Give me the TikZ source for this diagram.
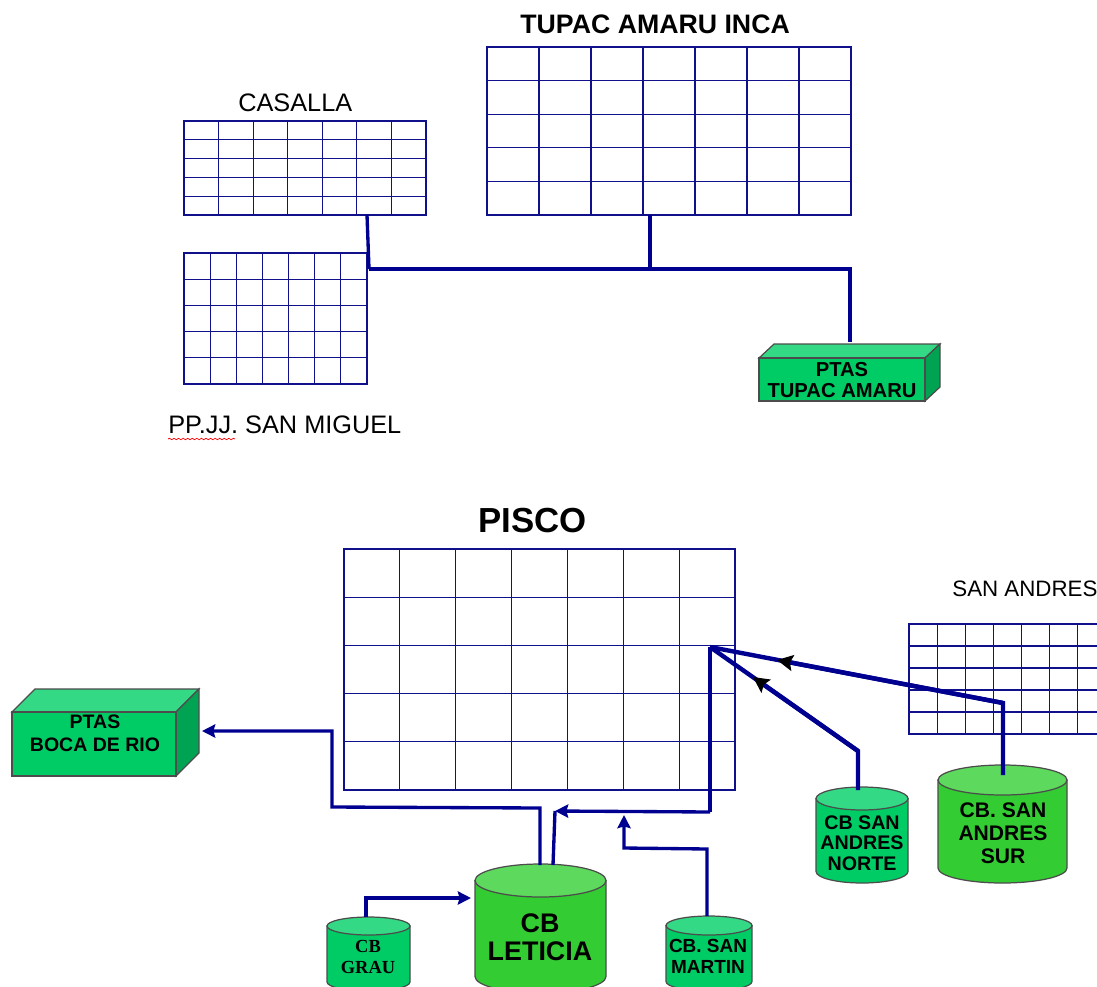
\documentclass[tikz,border=0pt]{standalone}
\usepackage{fontspec}
\setmainfont{Liberation Sans}
\newfontfamily\seriffont{Liberation Serif}
\usepackage{tikz}
\usetikzlibrary{arrows.meta}
\usetikzlibrary{decorations.pathmorphing}
\definecolor{gridblue}{HTML}{10108A}
\definecolor{pipeblue}{HTML}{000090}
\definecolor{cbgreen}{HTML}{00CC66}
\definecolor{cbtop}{HTML}{33D985}
\definecolor{cbside}{HTML}{00A352}
\definecolor{limegreen}{HTML}{33CC33}
\definecolor{limetop}{HTML}{5DD95D}
\tikzset{
    gridbox/.style={draw=gridblue, line width=0.62pt, inner sep=0pt, outer sep=0pt},
    gridline/.style={draw=gridblue, line width=0.62pt},
    pipe/.style={draw=pipeblue, line width=1.9pt},
    bigpipe/.style={draw=pipeblue, line width=2.5pt},
    pipehead/.style={-{Stealth[length=7.5pt, width=7.5pt, inset=1pt]}},
    blackhead/.style={-{Stealth[black, length=9pt, width=9pt, inset=1.5pt]}},
    shell/.style={draw=black!70, line width=0.7pt},
    plantface/.style={shell, fill=cbgreen, inner sep=0pt, outer sep=0pt},
    tanknode/.style={inner sep=0pt, outer sep=0pt},
    title/.style={inner sep=0pt, anchor=base west},
    tag/.style={inner sep=0pt, align=center, text=black},
}
% block of cells: name, left, top, right, bottom, columns, rows
\newcommand{\cellblock}[7]{
    \node [gridbox, anchor=north west, minimum width={(#4-#2)*0.02cm}, minimum height={(#5-#3)*0.02cm}] (#1) at (#2, #3) {};
    \foreach \k in {1,...,\numexpr#6-1\relax}
        \draw [gridline] ({#2+(#4-#2)*\k/#6}, #3) -- ({#2+(#4-#2)*\k/#6}, #5);
    \foreach \k in {1,...,\numexpr#7-1\relax}
        \draw [gridline] (#2, {#3+(#5-#3)*\k/#7}) -- (#4, {#3+(#5-#3)*\k/#7});
}
% plant box: name, left, top, right, bottom, depth x, depth y
\newcommand{\plantbox}[7]{
    \draw [shell, fill=cbtop] (#2, #3) -- (#2+#6, #3-#7) -- (#4+#6, #3-#7) -- (#4, #3) -- cycle;
    \draw [shell, fill=cbside] (#4, #3) -- (#4+#6, #3-#7) -- (#4+#6, #5-#7) -- (#4, #5) -- cycle;
    \node [plantface, anchor=north west, minimum width={(#4-#2)*0.02cm}, minimum height={(#5-#3)*0.02cm}] (#1) at (#2, #3) {};
}
% tank: name, centre x, top, bottom, x radius, y radius, body colour, top colour
\newcommand{\tank}[8]{
    \draw [shell, fill=#7] (#2-#5, #3+#6) -- (#2-#5, #4-#6) arc [start angle=180, end angle=0, x radius=#5, y radius=#6] -- (#2+#5, #3+#6) -- cycle;
    \draw [shell, fill=#8] (#2, #3+#6) ellipse [x radius=#5, y radius=#6];
    \node [tanknode, anchor=north, minimum width={2*#5*0.02cm}, minimum height={(#4-#3)*0.02cm}] (#1) at (#2, #3) {};
}
\begin{document}
\begin{tikzpicture}[x=0.02cm, y=-0.02cm]
    \useasboundingbox (0, 0) rectangle (1097, 986);
    \clip (0, 0) rectangle (1097, 986);

    % upper group
    \cellblock{tupac}{487}{47}{851}{215}{7}{5}
    \cellblock{casalla}{184}{121}{426}{215}{7}{5}
    \cellblock{miguel}{184}{253}{367}{384}{7}{5}
    \plantbox{ptastupac}{759}{358}{925}{401}{15}{14}
    \node [tag, font=\bfseries\fontsize{11.5}{12.2}\selectfont] (ptastupactxt) at (842, 380) {PTAS\\TUPAC AMARU};

    \node [title, font=\bfseries\fontsize{15.2}{17}\selectfont] (tupactxt) at (520, 34) {TUPAC AMARU INCA};
    \node [title, font=\fontsize{14.4}{16}\selectfont] (casallatxt) at (238, 112) {CASALLA};
    \node [title, font=\fontsize{14.4}{16}\selectfont] (migueltxt) at (168, 433) {PP.JJ. SAN MIGUEL};
    \draw [red, line width=0.4pt, decorate, decoration={snake, amplitude=0.4pt, segment length=2.6pt}] (migueltxt.base west) ++(0, 6) -- ++(67, 0);

    \coordinate (casallaout) at (367, 215);
    \coordinate (tupacout) at (650, 215);
    \coordinate (mainleft) at (369, 269);
    \coordinate (maintee) at (650, 269);
    \coordinate (mainright) at (850, 269);
    \coordinate (ptasin) at (850, 342);
    \draw [pipe] (casallaout) -- (mainleft);
    \draw [bigpipe] (mainleft) -- (maintee) -- (mainright) -- (ptasin);
    \draw [bigpipe] (tupacout) -- (maintee);

    % lower group
    \cellblock{pisco}{344}{549}{735}{790}{7}{5}
    \cellblock{andres}{909}{624}{1106}{734}{7}{5}
    \plantbox{ptasboca}{12}{712}{176}{776}{23}{23}
    \node [tag, font=\bfseries\fontsize{11.1}{13}\selectfont] (ptasbocatxt) at (95, 733) {PTAS\\BOCA DE RIO};

    \node [title, font=\bfseries\fontsize{19.8}{22}\selectfont] (piscotxt) at (478, 532) {PISCO};
    \node [title, font=\fontsize{12.7}{15}\selectfont] (andrestxt) at (952, 596) {SAN ANDRES};

    \tank{sur}{1002.5}{765}{883}{64.5}{15}{limegreen}{limetop}
    \tank{norte}{862}{787}{883}{46}{11.5}{cbgreen}{cbtop}
    \tank{leticia}{540.5}{864}{993}{65.5}{16.5}{limegreen}{limetop}
    \tank{grau}{368.5}{917}{991}{41.5}{9}{cbgreen}{cbtop}
    \tank{martin}{709}{916}{991}{43}{9.5}{cbgreen}{cbtop}

    \node [tag, font=\bfseries\fontsize{12}{13}\selectfont] (surtxt) at (1003, 833) {CB. SAN\\ANDRES\\SUR};
    \node [tag, font=\bfseries\fontsize{11.2}{11.8}\selectfont] (nortetxt) at (862, 843) {CB SAN\\ANDRES\\NORTE};
    \node [tag, font=\bfseries\fontsize{15.3}{16}\selectfont] (leticiatxt) at (540, 937) {CB\\LETICIA};
    \node [tag, font=\seriffont\bfseries\fontsize{10.5}{12}\selectfont] (grautxt) at (368, 957) {CB\\GRAU};
    \node [tag, font=\bfseries\fontsize{10.8}{12}\selectfont] (martintxt) at (708, 956) {CB. SAN\\MARTIN};

    \coordinate (hub) at (710, 647);
    \coordinate (surtop) at (1003, 775);
    \coordinate (surbend) at (1003, 703);
    \coordinate (surhead) at (777, 660);
    \coordinate (nortetop) at (858, 790);
    \coordinate (nortebend) at (858, 751);
    \coordinate (nortehead) at (753, 677);
    \draw [bigpipe] (surtop) -- (surbend) -- (hub);
    \draw [bigpipe, blackhead] (surbend) -- (surhead);
    \draw [bigpipe] (nortetop) -- (nortebend) -- (hub);
    \draw [bigpipe, blackhead] (nortebend) -- (nortehead);

    \coordinate (hubdrop) at (710, 812);
    \coordinate (rethead) at (555, 811);
    \coordinate (rettop) at (553, 865);
    \draw [pipe] (hub) -- (hubdrop);
    \draw [pipe, pipehead] (hubdrop) -- (rethead);
    \draw [pipe] (rethead) -- (rettop);

    \coordinate (letout) at (540, 865);
    \coordinate (bocain) at (202, 731);
    \draw [pipe, pipehead] (letout) -- (540, 808) -- (332, 807) -- (332, 731) -- (bocain);
    \coordinate (grauout) at (366, 917);
    \coordinate (leticiain) at (471, 898);
    \draw [pipe, pipehead] (grauout) -- (366, 898) -- (leticiain);
    \coordinate (martinout) at (707, 916);
    \coordinate (martinhead) at (624, 815);
    \draw [pipe, pipehead] (martinout) -- (707, 849) -- (624, 848) -- (martinhead);
\end{tikzpicture}
\end{document}
